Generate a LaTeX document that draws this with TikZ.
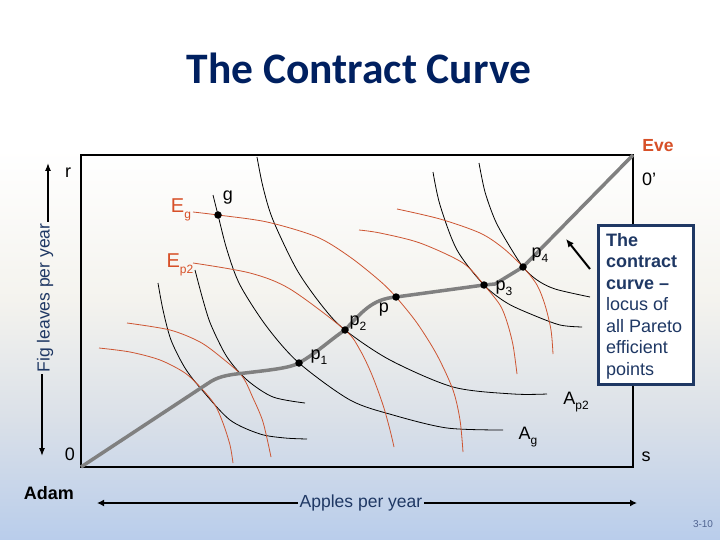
\documentclass[tikz,border=0pt]{standalone}
\usepackage{fontspec}
\setmainfont{Liberation Sans}
\newfontfamily\titlefont{Carlito}
\usetikzlibrary{arrows.meta}
\definecolor{navy}{RGB}{31,56,100}
\definecolor{titlenavy}{RGB}{0,32,96}
\definecolor{evered}{RGB}{215,80,40}
\definecolor{curvered}{RGB}{205,85,50}
\definecolor{ccgray}{RGB}{128,128,128}
\definecolor{bgA}{RGB}{185,205,235}
\definecolor{bgB}{RGB}{218,224,232}
\definecolor{bgC}{RGB}{244,243,238}
\definecolor{pgnum}{RGB}{80,100,145}
\newcommand\sbs[1]{\raisebox{-0.55ex}{\fontsize{12}{12}\selectfont #1}}
\begin{document}
\begin{tikzpicture}[x=1pt,y=-1pt,
  adamic/.style={black, line width=0.8pt},
  eveic/.style={curvered, line width=0.8pt},
  contract/.style={ccgray, line width=3.5pt, line join=round},
  dot/.style={circle, fill=black, inner sep=0pt, minimum size=7.5pt},
  lab/.style={inner sep=0pt, font=\fontsize{18}{21}\selectfont},
  elab/.style={inner sep=0pt, text=evered, font=\fontsize{20}{23}\selectfont},
  axlab/.style={inner sep=1.5pt, text=navy, font=\fontsize{17.5}{21}\selectfont},
  axline/.style={black, line width=1.3pt},
  boxline/.style={black, line width=1.3pt}]
\useasboundingbox (0,0) rectangle (720,540);
% background
\fill[white] (0,0) rectangle (720,150);
\shade[top color=white, bottom color=bgC] (0,149.5) rectangle (720,300);
\shade[top color=bgC, bottom color=bgB] (0,299.5) rectangle (720,420);
\shade[top color=bgB, bottom color=bgA] (0,419.5) rectangle (720,540);

% title
\node[inner sep=0pt, text=titlenavy, font=\titlefont\bfseries\fontsize{43.5}{48}\selectfont] (title) at (359,68) {The Contract Curve};

% Edgeworth box
\coordinate (O) at (81,467);
\coordinate (Op) at (633,155);
\draw[boxline] (O) rectangle (Op);

% points
\coordinate (gpt) at (218,215);
\coordinate (p1pt) at (299,363);
\coordinate (p2pt) at (345,330);
\coordinate (ppt) at (396,297);
\coordinate (p3pt) at (484,285);
\coordinate (p4pt) at (523,267);

% Adam's indifference curves (black)
\draw[adamic] plot[smooth] coordinates {(158,283) (163,310) (171,340) (185,368) (202,390) (230,420) (260,434) (285,438) (307,439)};
\draw[adamic] plot[smooth] coordinates {(195,270) (203,300) (211,325) (227,357) (247,380) (273,397) (305,403)};
\draw[adamic] plot[smooth] coordinates {(213,195) (gpt) (227,250) (240,285) (267,327) (p1pt) (350,400) (393,415) (447,428) (503,430)};
\draw[adamic] plot[smooth] coordinates {(257,157) (263,187) (273,220) (297,270) (323,307) (p2pt) (390,360) (453,387) (513,394) (547,394)};
\draw[adamic] plot[smooth] coordinates {(433,172) (440,205) (457,250) (p3pt) (507,303) (533,315) (560,325) (582,327)};
\draw[adamic] plot[smooth] coordinates {(479,163) (485,192) (495,220) (507,242) (p4pt) (537,280) (555,289) (590,297)};

% Eve's indifference curves (red)
\draw[eveic] plot[smooth] coordinates {(193,212) (gpt) (267,222) (317,237) (350,257) (380,281) (ppt) (417,323) (437,355) (453,390) (460,420) (463,452)};
\draw[eveic] plot[smooth] coordinates {(193,263) (250,273) (290,289) (p2pt) (360,350) (372,375) (383,405) (390,430) (394,447)};
\draw[eveic] plot[smooth] coordinates {(397,209) (440,219) (480,233) (503,248) (p4pt) (537,285) (545,305) (551,330) (553,354)};
\draw[eveic] plot[smooth] coordinates {(359,230) (380,233) (420,243) (463,263) (p3pt) (500,305) (507,322) (513,345) (517,374)};
\draw[eveic] plot[smooth] coordinates {(127,323) (170,330) (200,342) (222,358) (242,376) (253,398) (263,422) (271,457)};
\draw[eveic] plot[smooth] coordinates {(99,348) (130,352) (160,360) (185,373) (202,389) (215,405) (223,423) (230,445) (233,463)};

% contract curve
\draw[contract] (O) -- (207,384) .. controls (217,377) and (225,375) .. (245,373)
  .. controls (270,370) and (290,368) .. (p1pt)
  .. controls (318,352) and (330,340) .. (p2pt)
  .. controls (362,312) and (372,299) .. (ppt)
  -- (p3pt) -- (495,284) -- (p4pt) -- (Op);

% dots
\node[dot] (g) at (gpt) {};
\node[dot] (p1) at (p1pt) {};
\node[dot] (p2) at (p2pt) {};
\node[dot] (p) at (ppt) {};
\node[dot] (p3) at (p3pt) {};
\node[dot] (p4) at (p4pt) {};

% point labels
\node[lab] (glab) at (228,198) {g};
\node[lab] (p1lab) at (319,357) {p\sbs{1}};
\node[lab] (p2lab) at (358,323) {p\sbs{2}};
\node[lab] (plab) at (384,310) {p};
\node[lab] (p3lab) at (504,288) {p\sbs{3}};
\node[lab] (p4lab) at (540,255) {p\sbs{4}};
\node[lab] (Ap2lab) at (576,402) {A\sbs{p2}};
\node[lab] (Aglab) at (528,437) {A\sbs{g}};
\node[elab] (Eglab) at (181,210) {E\sbs{g}};
\node[elab] (Ep2lab) at (180,265) {E\sbs{p2}};

% corner labels
\node[lab] (rlab) at (68,173) {r};
\node[lab] (zlab) at (70,454) {0};
\node[lab] (zplab) at (649,179) {0'};
\node[lab] (slab) at (646,457) {s};
\node[lab, font=\bfseries\fontsize{18}{21}\selectfont] (adam) at (49,493) {Adam};
\node[lab, text=evered, font=\bfseries\fontsize{17.5}{20}\selectfont] (eve) at (658,146) {Eve};

% axis labels
\node[axlab, rotate=90] (fig) at (45,298) {Fig leaves per year};
\coordinate (ytop) at (48,163);
\coordinate (ybot) at (42,456);
\draw[axline, -{Latex[length=8pt,width=6pt]}] (fig.east -| ytop) -- (ytop);
\draw[axline, -{Latex[length=8pt,width=6pt]}] (fig.west -| ybot) -- (ybot);

\node[axlab] (apples) at (361,503) {Apples per year};
\coordinate (xl) at (97,503);
\coordinate (xr) at (637,503);
\draw[axline, line width=1.8pt, -{Latex[length=7pt,width=7pt]}] (apples.west) -- (xl);
\draw[axline, line width=1.8pt, -{Latex[length=7pt,width=7pt]}] (apples.east) -- (xr);

% annotation box
\node[draw=navy, line width=3pt, fill=white, minimum width=95pt, minimum height=159pt, inner sep=0pt, outer sep=0pt] (box) at (646,305) {};
\node[anchor=west, align=left, text=navy, inner sep=0pt, font=\fontsize{18}{21.5}\selectfont] (boxtxt) at (606,306)
  {{\bfseries The}\\{\bfseries contract}\\{\bfseries curve –}\\locus of\\all Pareto\\efficient\\points};
\coordinate (arrS) at (590,269);
\coordinate (arrE) at (566,239);
\draw[black, line width=2pt, -{Latex[length=8pt,width=7pt]}] (arrS) -- (arrE);

% page number
\node[inner sep=0pt, text=pgnum, font=\fontsize{10}{12}\selectfont] (pgn) at (703,524) {3-10};
\end{tikzpicture}
\end{document}
